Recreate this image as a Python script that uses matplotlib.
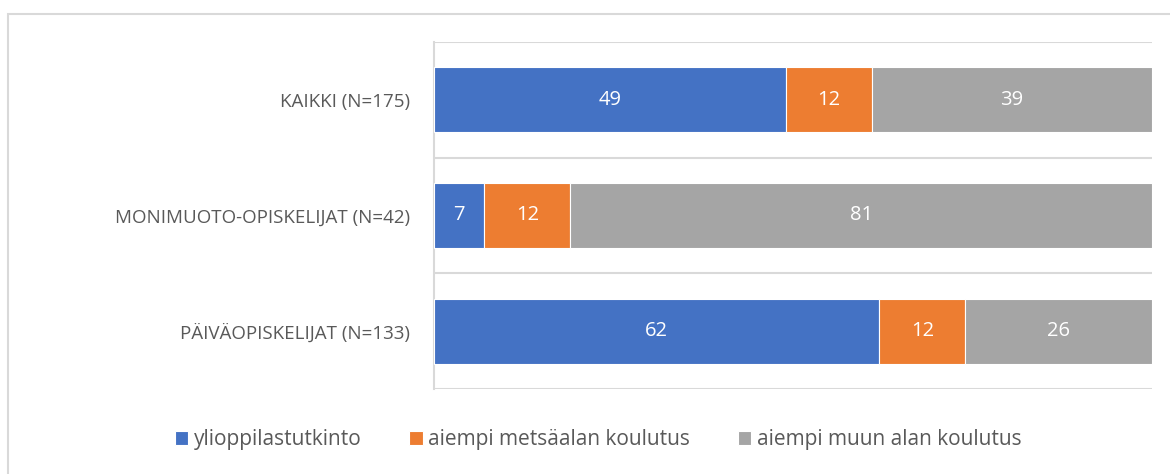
import matplotlib
matplotlib.use("Agg")
import matplotlib.pyplot as plt
from matplotlib.patches import Rectangle

categories = ["KAIKKI (N=175)", "MONIMUOTO-OPISKELIJAT (N=42)", "PÄIVÄOPISKELIJAT (N=133)"]
series_names = ["ylioppilastutkinto", "aiempi metsäalan koulutus", "aiempi muun alan koulutus"]
ylioppilas = [49, 7, 62]
metsaala = [12, 12, 12]
muu_ala = [39, 81, 26]
colors = ["#4472C4", "#ED7D31", "#A5A5A5"]

W, H = 1170, 474
fig = plt.figure(figsize=(W / 100, H / 100), dpi=100)
plt.rcParams['font.family'] = ['Open Sans', 'DejaVu Sans']

# outer chart border (partly cut off at right/bottom)
fig.patches.append(Rectangle((8 / W, -0.1), 1.2, 1 - 14 / H + 0.1, transform=fig.transFigure,
                             fill=False, edgecolor="#D9D9D9", linewidth=1.5))

ax = fig.add_axes([434 / W, 1 - 389 / H, (1152 - 434) / W, (389 - 42) / H])
ypos = list(range(len(categories)))
left = [0] * len(categories)
for vals, name, col in zip([ylioppilas, metsaala, muu_ala], series_names, colors):
    bars = ax.barh(ypos, vals, left=left, height=0.56, color=col, label=name,
                   edgecolor="white", linewidth=0.8, zorder=3)
    for b, v in zip(bars, vals):
        ax.text(b.get_x() + b.get_width() / 2, b.get_y() + b.get_height() / 2, str(v),
                ha="center", va="center", color="white", fontsize=14.5, zorder=4)
    left = [l + v for l, v in zip(left, vals)]

ax.set_xlim(0, 100)
ax.set_ylim(len(categories) - 0.5, -0.5)
for y in [-0.5, 0.5, 1.5, 2.5]:
    ax.axhline(y, color="#D9D9D9", linewidth=1.5, zorder=1)
ax.set_yticks(ypos)
ax.set_yticklabels(categories, color="#595959", fontsize=13.5)
ax.tick_params(axis="y", length=0, pad=17)
ax.set_xticks([])
for s in ["top", "right", "bottom"]:
    ax.spines[s].set_visible(False)
ax.spines["left"].set_color("#D9D9D9")
ax.spines["left"].set_linewidth(1.5)

fig.legend(loc="center", bbox_to_anchor=(598 / W, 1 - 440 / H), ncol=3, frameon=False,
           fontsize=15, labelcolor="#595959", handlelength=0.65, handleheight=0.65,
           handletextpad=0.25, columnspacing=2.3)

fig.savefig("out.png", dpi=100)
